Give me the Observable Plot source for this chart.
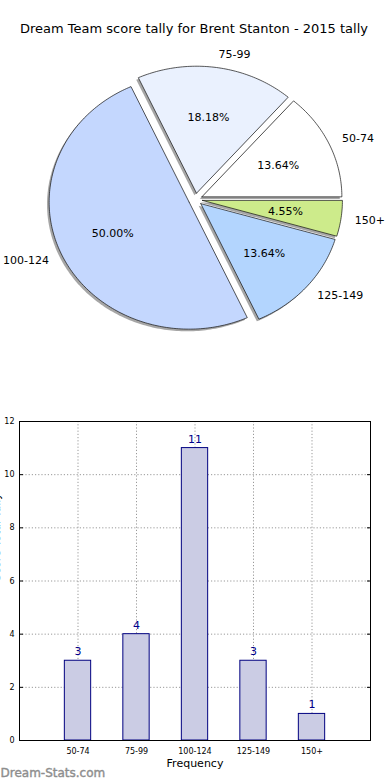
<!DOCTYPE html>
<html>
<head>
<meta charset="utf-8">
<script src="https://cdn.jsdelivr.net/npm/d3@7"></script>
<script src="https://cdn.jsdelivr.net/npm/@observablehq/plot@0.6"></script>
<style>
  body { margin: 0; background: #fff; font-family: "DejaVu Sans", sans-serif; }
  #wrap { position: relative; width: 390px; height: 780px; overflow: hidden; }
  #title { position: absolute; top: 21px; left: 0; width: 388px; text-align: center; font-size: 13px; color: #000; }
  #pie { position: absolute; top: 40px; left: 0; }
  #bar { position: absolute; top: 410px; left: 0; }
</style>
</head>
<body>
<div id="wrap">
  <div id="title">Dream Team score tally for Brent Stanton - 2015 tally</div>
  <div id="pie"></div>
  <div id="bar"></div>
</div>
<script>
const categories = ["50-74", "75-99", "100-124", "125-149", "150+"];
const counts = [3, 4, 11, 3, 1];
const pieColors = ["#ffffff", "#eaf1fe", "#c4d7fe", "#b3d5fe", "#cdeb8b"];
const yTicks = [0, 2, 4, 6, 8, 10, 12];
const yLabel = "Score Total Tally";
const xLabel = "Frequency";
const watermark = "Dream-Stats.com";

// ---------- Pie ----------
const total = d3.sum(counts);
const explode = 0.05;
let acc = 0;
const slices = categories.map((c, i) => {
  const a0 = acc / total * 2 * Math.PI;
  acc += counts[i];
  const a1 = acc / total * 2 * Math.PI;
  const mid = (a0 + a1) / 2;
  return {c, i, a0, a1, mid, ox: explode * Math.cos(mid), oy: explode * Math.sin(mid)};
});
const piePts = [];
for (const s of slices) {
  piePts.push({key: s.c, x: s.ox, y: s.oy, color: pieColors[s.i]});
  const n = Math.max(2, Math.ceil((s.a1 - s.a0) / (Math.PI / 180)));
  for (let k = 0; k <= n; k++) {
    const a = s.a0 + (s.a1 - s.a0) * k / n;
    piePts.push({key: s.c, x: s.ox + Math.cos(a), y: s.oy + Math.sin(a), color: pieColors[s.i]});
  }
  piePts.push({key: s.c, x: s.ox, y: s.oy, color: pieColors[s.i]});
}
const labels = slices.map(s => ({
  text: s.c,
  x: s.ox + 1.1 * Math.cos(s.mid),
  y: s.oy + 1.1 * Math.sin(s.mid),
  right: Math.cos(s.mid) > 0
}));
const pcts = slices.map(s => ({
  text: (counts[s.i] / total * 100).toFixed(2) + "%",
  x: s.ox + 0.6 * Math.cos(s.mid),
  y: s.oy + 0.6 * Math.sin(s.mid)
}));

const RX = 140, RY = 127, CX = 195, CY = 159, PW = 390, PH = 310;
const pie = Plot.plot({
  width: PW, height: PH,
  margin: 0,
  x: {domain: [-CX / RX, (PW - CX) / RX], range: [0, PW], axis: null},
  y: {domain: [-(PH - CY) / RY, CY / RY], range: [PH, 0], axis: null},
  color: {type: "identity"},
  style: {fontFamily: "DejaVu Sans, sans-serif", background: "transparent"},
  marks: [
    Plot.line(piePts, {x: d => d.x - 0.015, y: d => d.y - 0.017, z: "key", fill: "#4d4d4d", fillOpacity: 0.5, stroke: "none"}),
    Plot.line(piePts, {x: "x", y: "y", z: "key", fill: "color", stroke: "#111", strokeWidth: 0.7, curve: "linear"}),
    Plot.text(labels.filter(d => d.right), {x: "x", y: "y", text: "text", textAnchor: "start", fontSize: 11, fill: "#000"}),
    Plot.text(labels.filter(d => !d.right), {x: "x", y: "y", text: "text", textAnchor: "end", fontSize: 11, fill: "#000"}),
    Plot.text(pcts, {x: "x", y: "y", text: "text", fontSize: 11, fill: "#000"})
  ]
});
document.getElementById("pie").appendChild(pie);

// ---------- Bar ----------
const bars = categories.map((c, i) => ({c, i, v: counts[i]}));
const bar = Plot.plot({
  width: 390, height: 370,
  marginTop: 11, marginBottom: 40, marginLeft: 19, marginRight: 20,
  x: {type: "linear", domain: [-1, 5]},
  y: {domain: [0, 12]},
  style: {fontFamily: "DejaVu Sans, sans-serif", background: "transparent"},
  marks: [
    Plot.gridX({ticks: [0, 1, 2, 3, 4], stroke: "#999", strokeOpacity: 1, strokeDasharray: "1.2,2"}),
    Plot.gridY({ticks: yTicks, stroke: "#999", strokeOpacity: 1, strokeDasharray: "1.2,2"}),
    Plot.rectY(bars, {x1: d => d.i - 0.225, x2: d => d.i + 0.225, y: "v", fill: "#cbcce4", stroke: "#000080", strokeWidth: 1}),
    Plot.text(bars, {x: "i", y: "v", text: d => String(d.v), dy: -9, fill: "#00008b", fontSize: 11}),
    Plot.axisY({ticks: yTicks, tickSize: 0, tickPadding: 5, fontSize: 8, fill: "#000", label: null}),
    Plot.axisY({ticks: yTicks, anchor: "right", tickSize: -4, tickFormat: () => "", label: null, stroke: "#000"}),
    Plot.axisY({ticks: yTicks, anchor: "left", tickSize: -4, tickFormat: () => "", label: null, stroke: "#000"}),
    Plot.axisX({ticks: [0, 1, 2, 3, 4], tickFormat: i => categories[i], tickSize: 0, tickPadding: 8, fontSize: 8, fill: "#000", label: null}),
    Plot.frame({stroke: "#000", strokeWidth: 1}),
    Plot.text([xLabel], {frameAnchor: "bottom", text: d => d, dy: 26, fontSize: 11, fill: "#000"}),
    Plot.text([yLabel], {frameAnchor: "left", text: d => d, rotate: -90, dx: -23, fontSize: 11, fill: "#000"}),
    Plot.text([watermark], {frameAnchor: "bottom-left", text: d => d, dx: -19, dy: 36, fontSize: 12, fill: "#8e8e8e", stroke: "#8e8e8e", strokeWidth: 0.4, textAnchor: "start"})
  ]
});
document.getElementById("bar").appendChild(bar);
</script>
</body>
</html>
